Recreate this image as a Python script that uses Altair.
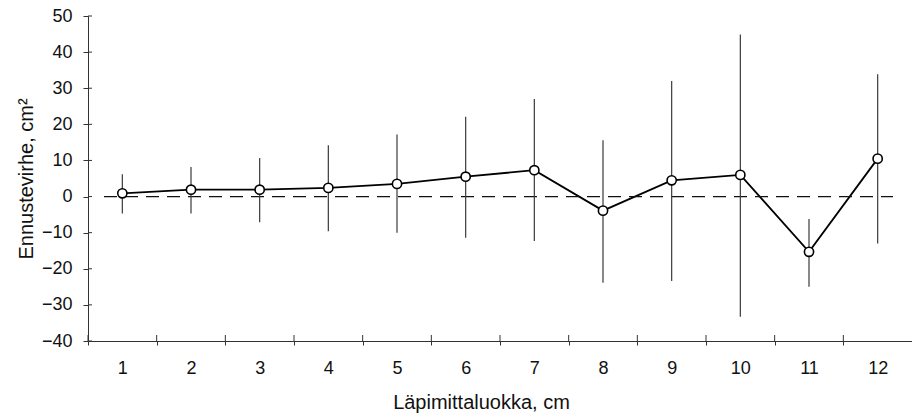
import altair as alt
import pandas as pd

# Diameter classes (cm) and forecast error statistics (cm²)
classes = [1, 2, 3, 4, 5, 6, 7, 8, 9, 10, 11, 12]
mean_error = [0.9, 1.9, 1.9, 2.4, 3.5, 5.5, 7.3, -3.9, 4.5, 6.0, -15.3, 10.5]
upper = [6.2, 8.2, 10.7, 14.2, 17.2, 22.1, 27.0, 15.6, 32.0, 44.9, -6.2, 33.9]
lower = [-4.7, -4.7, -7.1, -9.6, -10.0, -11.4, -12.3, -23.9, -23.4, -33.3, -25.0, -13.0]
y_ticks = [-40, -30, -20, -10, 0, 10, 20, 30, 40, 50]

df = pd.DataFrame({"cls": classes, "mean": mean_error, "hi": upper, "lo": lower})
ticks_df = pd.DataFrame({"v": y_ticks})
zero_df = pd.DataFrame({"z": [0]})

W, H = 824, 325
FONT = "Liberation Sans"

x_axis = alt.Axis(
    title="Läpimittaluokka, cm",
    labelAngle=0,
    tickBand="extent",
    tickExtra=False,
    tickSize=4,
    labelPadding=28,
    labelBaseline="alphabetic",
    titleX=393,
    titleY=67,
    titleBaseline="alphabetic",
)
y_axis = alt.Axis(
    title="Ennustevirhe, cm²",
    values=y_ticks,
    tickCount=10,
    labelOverlap=False,
    tickSize=5,
    labelPadding=11,
    titleX=-52,
    titleY=162.5,
)
x_scale = alt.Scale(paddingInner=0, paddingOuter=0)
y_scale = alt.Scale(domain=[-40, 50], nice=False, zero=False)


def X(field, **kw):
    return alt.X(field, scale=x_scale, axis=x_axis, **kw)


def Y(field):
    return alt.Y(field, scale=y_scale, axis=y_axis)


base = alt.Chart(df)

errbars = base.mark_rule(color="#3a3a3a", strokeWidth=1.2).encode(
    x=X("cls:O"), y=Y("lo:Q"), y2="hi:Q"
)

zero_line = alt.Chart(zero_df).mark_rule(
    color="#111111", strokeWidth=1.2, strokeDash=[13, 8]
).encode(y=Y("z:Q"), x=alt.value(16), x2=alt.value(805))

line = base.mark_line(color="black", strokeWidth=1.8).encode(x=X("cls:O"), y=Y("mean:Q"))

points = base.mark_point(
    shape="circle", filled=True, fill="white", stroke="black",
    strokeWidth=1.6, size=85, opacity=1
).encode(x=X("cls:O"), y=Y("mean:Q"))

# inner halves of the axis ticks, so that ticks cross the axis lines
y_inner = alt.Chart(ticks_df).mark_rule(color="#333333", strokeWidth=1).encode(
    y=Y("v:Q"), x=alt.value(0), x2=alt.value(4)
)
x_inner = base.mark_rule(color="#333333", strokeWidth=1).encode(
    x=X("cls:O", bandPosition=0), y=alt.value(H - 6), y2=alt.value(H)
)

chart = (
    alt.layer(line, zero_line, errbars, x_inner, y_inner, points)
    .properties(
        width=W,
        height=H,
        autosize=alt.AutoSizeParams(type="none"),
        padding={"left": 88, "top": 16, "right": 0, "bottom": 72},
        background="white",
    )
    .configure_view(stroke=None)
    .configure_axis(
        grid=False,
        domainColor="#333333",
        domainWidth=1,
        tickColor="#333333",
        tickWidth=1,
        labelFont=FONT,
        labelFontSize=18,
        labelColor="#111111",
        titleFont=FONT,
        titleFontSize=20,
        titleFontWeight="normal",
        titleColor="#111111",
    )
)

chart.save("out.html", embed_options={"renderer": "svg", "actions": False})
